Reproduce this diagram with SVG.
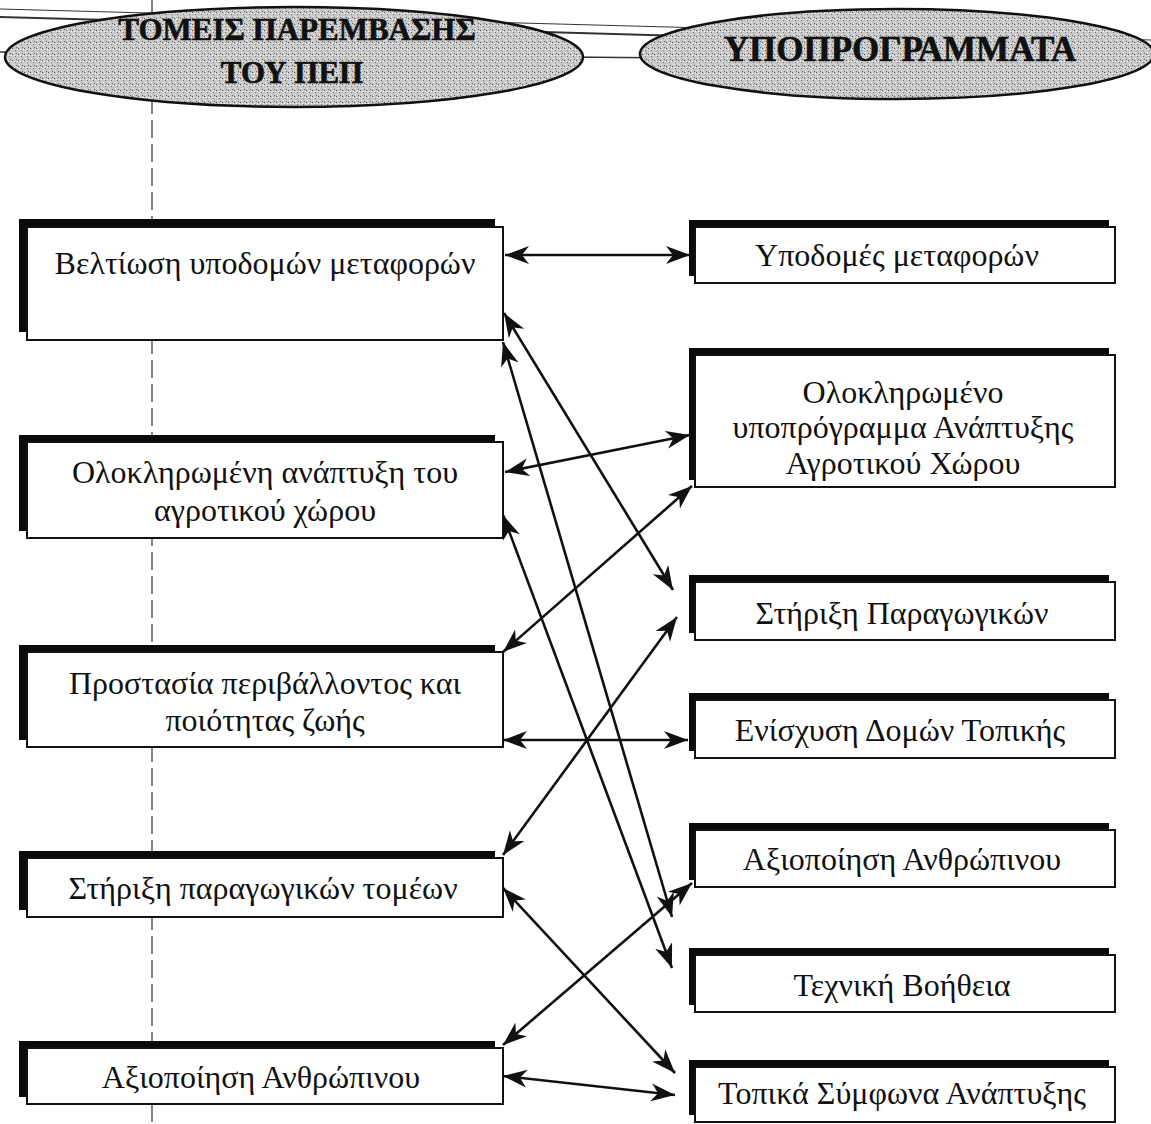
<svg xmlns="http://www.w3.org/2000/svg" width="1151" height="1124" viewBox="0 0 1151 1124">
<style>
.bg{fill:#ffffff}
.shadow{fill:#0a0a0a}
.box{fill:#ffffff;stroke:#111;stroke-width:2}
.t{font-family:"Liberation Serif","DejaVu Serif",serif;font-size:32px;fill:#111;text-anchor:middle}
.h{font-family:"Liberation Serif","DejaVu Serif",serif;font-weight:bold;fill:#111;text-anchor:middle;stroke:#111;stroke-width:0.6}
.ell{fill:url(#stip);stroke:#111;stroke-width:2.5}
.conn{stroke:#111;stroke-width:2.6;fill:none;marker-start:url(#ah);marker-end:url(#ah)}
.art{stroke:#333;fill:none}
</style>
<defs>
<pattern id="stip" width="6" height="6" patternUnits="userSpaceOnUse">
<rect width="6" height="6" fill="#c8c8c8"/>
<rect x="0" y="0" width="1" height="1" fill="#555"/>
<rect x="3" y="2" width="1" height="1" fill="#777"/>
<rect x="1" y="4" width="1" height="1" fill="#f0f0f0"/>
<rect x="4" y="5" width="1" height="1" fill="#666"/>
<rect x="5" y="1" width="1" height="1" fill="#f6f6f6"/>
<rect x="2" y="1" width="1" height="1" fill="#fafafa"/>
</pattern>
<marker id="ah" markerUnits="userSpaceOnUse" markerWidth="26" markerHeight="20" refX="24" refY="9" orient="auto-start-reverse" viewBox="0 0 26 18">
<path d="M0,0 L24,9 L0,18 L7,9 z" fill="#111"/>
</marker>
</defs>
<rect class="bg" width="1151" height="1124"/>

<g id="artifacts">
<line class="art" x1="0" y1="9" x2="1151" y2="40" stroke-width="1"/>
<line class="art" x1="0" y1="17" x2="1151" y2="49" stroke-width="2"/>
<line class="art" x1="0" y1="52" x2="1151" y2="62" stroke-width="1.5"/>
<line class="art" x1="152" y1="0" x2="152" y2="1124" stroke-width="1.2" stroke-dasharray="18 6"/>
</g>

<g id="header-left">
<ellipse class="ell" cx="294" cy="57" rx="289" ry="50"/>
<text class="h" x="297" y="40" font-size="31">ΤΟΜΕΙΣ ΠΑΡΕΜΒΑΣΗΣ</text>
<text class="h" x="292" y="83" font-size="31">ΤΟΥ ΠΕΠ</text>
</g>
<g id="header-right">
<ellipse class="ell" cx="897" cy="54" rx="257" ry="45"/>
<text class="h" x="900" y="61" font-size="35">ΥΠΟΠΡΟΓΡΑΜΜΑΤΑ</text>
</g>

<g id="connectors">
<line class="conn" x1="505" y1="255" x2="690" y2="255"/>
<line class="conn" x1="504" y1="313" x2="673" y2="590"/>
<line class="conn" x1="503" y1="342" x2="672" y2="917"/>
<line class="conn" x1="505" y1="472" x2="690" y2="435"/>
<line class="conn" x1="503" y1="515" x2="672" y2="968"/>
<line class="conn" x1="503" y1="652" x2="692" y2="486"/>
<line class="conn" x1="503" y1="740" x2="688" y2="740"/>
<line class="conn" x1="503" y1="855" x2="677" y2="617"/>
<line class="conn" x1="503" y1="888" x2="675" y2="1073"/>
<line class="conn" x1="503" y1="1045" x2="692" y2="883"/>
<line class="conn" x1="503" y1="1076" x2="675" y2="1095"/>
</g>

<g id="L1">
<rect class="shadow" x="19" y="219" width="476" height="113"/>
<rect class="box" x="27" y="227" width="476" height="113"/>
<text class="t" x="265" y="274">Βελτίωση υποδομών μεταφορών</text>
</g>
<g id="L2">
<rect class="shadow" x="19" y="435" width="476" height="96"/>
<rect class="box" x="27" y="442" width="476" height="96"/>
<text class="t" x="265" y="483">Ολοκληρωμένη ανάπτυξη του</text>
<text class="t" x="265" y="521">αγροτικού χώρου</text>
</g>
<g id="L3">
<rect class="shadow" x="19" y="645" width="476" height="95"/>
<rect class="box" x="27" y="652" width="476" height="95"/>
<text class="t" x="265" y="694">Προστασία περιβάλλοντος και</text>
<text class="t" x="265" y="731">ποιότητας ζωής</text>
</g>
<g id="L4">
<rect class="shadow" x="19" y="851" width="476" height="59"/>
<rect class="box" x="27" y="858" width="476" height="59"/>
<text class="t" x="263" y="899">Στήριξη παραγωγικών τομέων</text>
</g>
<g id="L5">
<rect class="shadow" x="19" y="1041" width="476" height="56"/>
<rect class="box" x="27" y="1048" width="476" height="56"/>
<text class="t" x="261" y="1088">Αξιοποίηση Ανθρώπινου</text>
</g>

<g id="R1">
<rect class="shadow" x="689" y="220" width="420" height="56"/>
<rect class="box" x="695" y="227" width="420" height="56"/>
<text class="t" x="897" y="266">Υποδομές μεταφορών</text>
</g>
<g id="R2">
<rect class="shadow" x="689" y="348" width="420" height="132"/>
<rect class="box" x="695" y="355" width="420" height="132"/>
<text class="t" x="903" y="403">Ολοκληρωμένο</text>
<text class="t" x="903" y="438">υποπρόγραμμα Ανάπτυξης</text>
<text class="t" x="903" y="474">Αγροτικού Χώρου</text>
</g>
<g id="R3">
<rect class="shadow" x="689" y="575" width="420" height="58"/>
<rect class="box" x="695" y="582" width="420" height="58"/>
<text class="t" x="902" y="624">Στήριξη Παραγωγικών</text>
</g>
<g id="R4">
<rect class="shadow" x="689" y="693" width="420" height="58"/>
<rect class="box" x="695" y="700" width="420" height="58"/>
<text class="t" x="900" y="741">Ενίσχυση Δομών Τοπικής</text>
</g>
<g id="R5">
<rect class="shadow" x="689" y="823" width="420" height="57"/>
<rect class="box" x="695" y="830" width="420" height="57"/>
<text class="t" x="902" y="870">Αξιοποίηση Ανθρώπινου</text>
</g>
<g id="R6">
<rect class="shadow" x="689" y="948" width="420" height="57"/>
<rect class="box" x="695" y="955" width="420" height="57"/>
<text class="t" x="902" y="996">Τεχνική Βοήθεια</text>
</g>
<g id="R7">
<rect class="shadow" x="689" y="1060" width="420" height="55"/>
<rect class="box" x="695" y="1067" width="420" height="55"/>
<text class="t" x="902" y="1104">Τοπικά Σύμφωνα Ανάπτυξης</text>
</g>
</svg>
